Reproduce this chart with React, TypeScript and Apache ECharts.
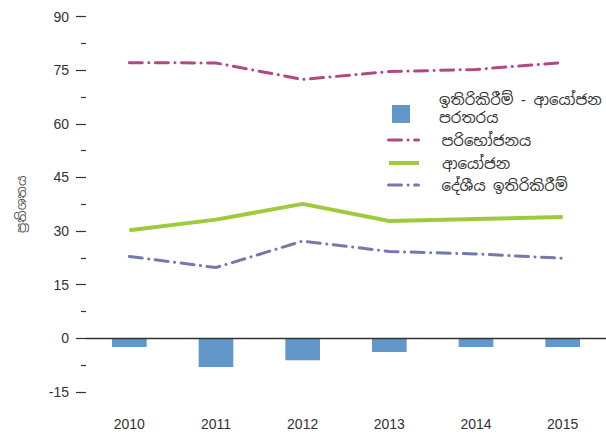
import React, { useEffect, useRef } from "react";
import * as echarts from "echarts";

const years = ["2010", "2011", "2012", "2013", "2014", "2015"];
const gapValues = [-2.4, -8.0, -6.1, -3.8, -2.4, -2.4];
const consumption = [77.1, 77.0, 72.4, 74.6, 75.2, 77.1];
const investment = [30.2, 33.2, 37.6, 32.8, 33.4, 33.9];
const savings = [22.9, 19.8, 27.2, 24.3, 23.6, 22.4];

const nameGap = "ඉතිරිකිරීම් - ආයෝජන පරතරය";
const nameCons = "පරිභෝජනය";
const nameInv = "ආයෝජන";
const nameSav = "දේශීය ඉතිරිකිරීම්";
const yAxisName = "ප්\u200Dරතිශතය";

const FONT = "'Noto Sans Sinhala', 'Liberation Sans', Arial, sans-serif";

export default function App() {
  const ref = useRef<HTMLDivElement>(null);
  useEffect(() => {
    if (!ref.current) return;
    const chart = echarts.init(ref.current, null, { renderer: "svg" });
    const dashDot = [13, 6.5, 0.1, 6.5];
    const rich = {
      s: { width: 18, height: 18 },
      t: { fontSize: 15, color: "#333", fontFamily: FONT, lineHeight: 18 },
    };
    const legendBase = {
      orient: "vertical",
      left: 387,
      itemWidth: 30,
      itemHeight: 18,
      padding: 0,
      selectedMode: false,
      lineStyle: { width: "inherit" },
      itemStyle: { opacity: 0 },
      formatter: (n: string) => `{s|}{t|${n}}`,
      textStyle: {
        fontSize: 15,
        color: "#333",
        lineHeight: 18,
        fontFamily: FONT,
        rich,
      },
    };
    chart.setOption({
      animation: false,
      textStyle: { fontFamily: FONT },
      grid: { left: 86, right: 0, top: 16.5, bottom: 43 },
      legend: [
        {
          ...legendBase,
          left: 392,
          top: 90,
          itemStyle: {},
          data: [{ name: nameGap, icon: "path://M0 0H10V10H0Z" }],
          formatter: () => "{s|}{t|ඉතිරිකිරීම් - ආයෝජන}\n{s|}{t|පරතරය}",
          textStyle: { ...legendBase.textStyle, padding: [0, 0, 12, 0] },
        },
        { ...legendBase, top: 131, data: [nameCons] },
        { ...legendBase, top: 154, data: [nameInv] },
        { ...legendBase, top: 176, data: [nameSav] },
      ],
      xAxis: {
        type: "category",
        data: years,
        axisLine: { show: false, onZero: false },
        axisTick: { show: false },
        axisLabel: { fontSize: 14, color: "#333", margin: 25, fontFamily: "'Liberation Sans', Arial, sans-serif" },
      },
      yAxis: {
        type: "value",
        min: -15,
        max: 90,
        interval: 15,
        name: yAxisName,
        nameLocation: "middle",
        nameGap: 58,
        nameTextStyle: { fontSize: 13, color: "#555", fontFamily: FONT },
        axisLine: { show: false },
        axisTick: { show: true, length: 10, lineStyle: { color: "#333", width: 1.2 } },
        minorTick: { show: true, splitNumber: 2, length: 5, lineStyle: { color: "#333", width: 1.2 } },
        splitLine: { show: false },
        axisLabel: { fontSize: 14, color: "#333", margin: 17, fontFamily: "'Liberation Sans', Arial, sans-serif" },
      },
      series: [
        {
          name: nameGap,
          type: "bar",
          data: gapValues,
          barWidth: "40%",
          itemStyle: { color: "#6197c9" },
          markLine: {
            silent: true,
            symbol: "none",
            label: { show: false },
            lineStyle: { color: "#333", width: 1.3, type: "solid" },
            data: [{ yAxis: 0 }],
          },
        },
        {
          name: nameCons,
          type: "line",
          data: consumption,
          symbol: "none",
          lineStyle: { color: "#b04a82", width: 3, type: dashDot, cap: "round" },
          itemStyle: { color: "#b04a82" },
        },
        {
          name: nameInv,
          type: "line",
          data: investment,
          symbol: "none",
          lineStyle: { color: "#9dcb3c", width: 4 },
          itemStyle: { color: "#9dcb3c" },
        },
        {
          name: nameSav,
          type: "line",
          data: savings,
          symbol: "none",
          lineStyle: { color: "#7578ad", width: 3, type: dashDot, cap: "round" },
          itemStyle: { color: "#7578ad" },
        },
      ],
    });
    return () => chart.dispose();
  }, []);
  return (
    <div
      ref={ref}
      style={{ position: "fixed", left: 0, top: 0, width: 606, height: 435, background: "#fff" }}
    />
  );
}
